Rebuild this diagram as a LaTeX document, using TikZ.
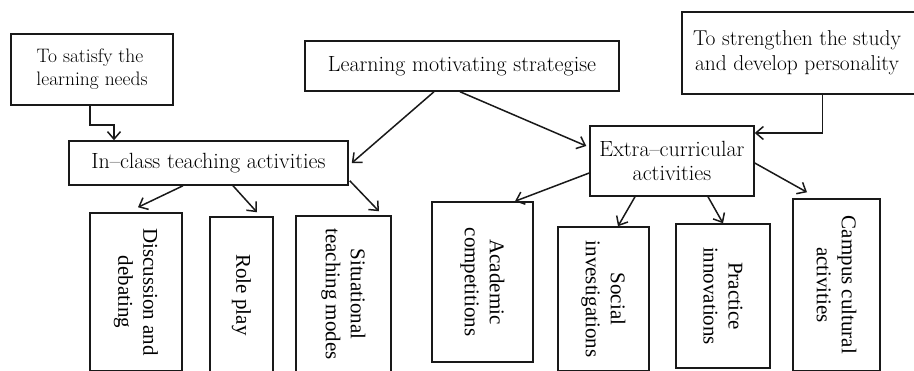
\documentclass[tikz,border=0pt]{standalone}
\usepackage{fontspec}
\newfontfamily\vfont{Liberation Serif}
\usetikzlibrary{arrows.meta}
\tikzset{
  box/.style={draw=black!90, line width=1.5pt, rectangle, inner sep=0pt, align=center},
  htext/.style={font=\fontsize{22}{24}\selectfont},
  vtext/.style={font=\vfont\fontsize{21}{25}\selectfont, rotate=-90, align=center, inner sep=0pt},
  arr/.style={draw=black!90, line width=1.5pt, -{Straight Barb[length=7.5pt,width=13pt,line width=1.5pt]}}
}
\begin{document}
\begin{tikzpicture}[x=1pt,y=-1pt]
\useasboundingbox (0,0) rectangle (914,370);
\clip (0,0) rectangle (914,370);
% top boxes
\node[box, minimum width=162pt, minimum height=71pt, font=\fontsize{19.5}{23}\selectfont] (sat) at (92,69.5) {\hspace*{-4pt}To satisfy the\\learning needs};
\node[box, htext, minimum width=279pt, minimum height=44pt] (inc) at (208.5,163) {In--class teaching activities};
\node[box, htext, minimum width=314pt, minimum height=50pt] (lms) at (462,66) {Learning motivating strategise};
\node[box, minimum width=238pt, minimum height=82pt, font=\fontsize{21.5}{25}\selectfont] (str) at (801,53) {\hspace*{-8pt}To strengthen the study\\\hspace*{-8pt}and develop personality};
\node[box, htext, minimum width=164pt, minimum height=70pt] (ext) at (672,161) {Extra--curricular\\activities};
% bottom boxes
\node[box, minimum width=92pt, minimum height=158pt] (dis) at (136,292) {};
\node[vtext] (dist) at (dis) {Discussion and\\debating};
\node[box, minimum width=63pt, minimum height=156pt] (rol) at (241.5,295) {};
\node[vtext] (rolt) at (rol) {Role play};
\node[box, minimum width=95pt, minimum height=156pt] (sit) at (343.5,294) {};
\node[vtext] (sitt) at (sit) {Situational\\teaching modes};
\node[box, minimum width=101pt, minimum height=160pt] (aca) at (482.5,282) {};
\node[vtext] (acat) at (aca) {Academic\\competitions};
\node[box, minimum width=91pt, minimum height=144pt] (soc) at (603.5,299) {};
\node[vtext] (soct) at (soc) {Social\\investigations};
\node[box, minimum width=94pt, minimum height=144pt] (pra) at (723,296) {};
\node[vtext] (prat) at (pra) {Practice\\innovations};
\node[box, minimum width=87pt, minimum height=172pt] (cam) at (836.5,285) {};
\node[vtext] (camt) at (cam) {Campus cultural\\activities};
% connectors
\draw[arr] ([xshift=-2pt]sat.south) -- ++(0,19) -| ([xshift=-94.5pt]inc.north);
\draw[arr] ([xshift=-28pt]lms.south) -- ([xshift=3pt]inc.east);
\draw[arr] ([xshift=-2pt]lms.south) -- ([xshift=-3pt,yshift=15pt]ext.west);
\draw[arr] ([xshift=21.5pt]str.south) |- ([yshift=28pt]ext.east);
\draw[arr] ([xshift=-25.5pt]inc.south) -- ([xshift=2pt,yshift=5pt]dis.north);
\draw[arr] ([xshift=24.5pt]inc.south) -- ([xshift=15.5pt,yshift=4pt]rol.north);
\draw[arr] ([xshift=1pt,yshift=5pt]inc.south east) -- ([xshift=35.5pt,yshift=4pt]sit.north);
\draw[arr] ([yshift=-12pt]ext.west) -- ([xshift=32.5pt]aca.north);
\draw[arr] ([xshift=-37pt]ext.south) -- ([xshift=14.5pt]soc.north);
\draw[arr] ([xshift=36pt]ext.south) -- (pra.north);
\draw[arr] ([yshift=-2pt]ext.east) -- ([xshift=-29.5pt,yshift=6pt]cam.north);
\end{tikzpicture}
\end{document}
